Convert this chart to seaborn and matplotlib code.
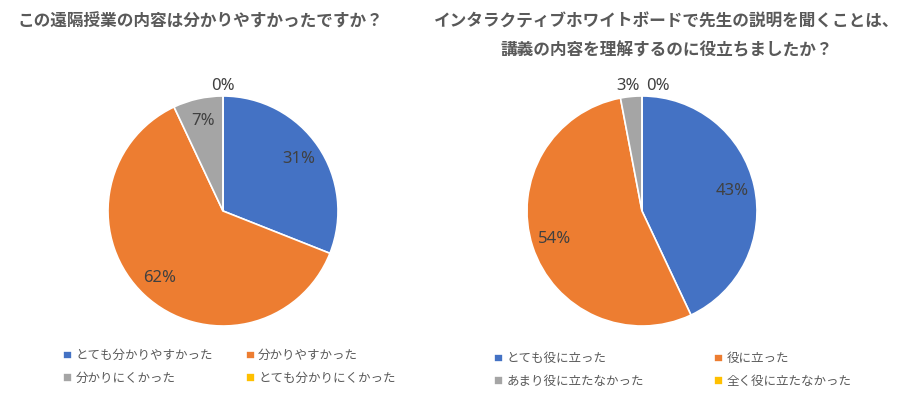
import numpy as np
import matplotlib
matplotlib.use('Agg')
import matplotlib.pyplot as plt
import seaborn as sns

# data
q1_title = 'この遠隔授業の内容は分かりやすかったですか？'
q1_labels = ['とても分かりやすかった', '分かりやすかった', '分かりにくかった', 'とても分かりにくかった']
q1_values = [31, 62, 7, 0]

q2_title = 'インタラクティブホワイトボードで先生の説明を聞くことは、\n講義の内容を理解するのに役立ちましたか？'
q2_labels = ['とても役に立った', '役に立った', 'あまり役に立たなかった', '全く役に立たなかった']
q2_values = [43, 54, 3, 0]

sns.set_theme(style='white')
plt.rcParams['font.family'] = ['Noto Sans CJK JP', 'DejaVu Sans']

pal = ['#4472C4', '#ED7D31', '#A5A5A5', '#FFC000']
W, H = 900, 393
fig = plt.figure(figsize=(9, 3.93), dpi=100)


def draw_pie(cx, cy, r, values, labels, small_nudge, legend_box, colspace):
    ax = fig.add_axes([(cx - r) / W, (H - cy - r) / H, 2 * r / W, 2 * r / H])
    wedges, _ = ax.pie(values, colors=pal, startangle=90, counterclock=False,
                       wedgeprops=dict(edgecolor='white', linewidth=1.2))
    ax.set_xlim(-1, 1)
    ax.set_ylim(-1, 1)
    ax.set_aspect('equal')
    # data labels
    for w, v, nudge in zip(wedges, values, small_nudge):
        ang = np.deg2rad((w.theta1 + w.theta2) / 2)
        dist = 0.8 if v >= 5 else 1.09
        x, y = dist * np.cos(ang) + nudge, dist * np.sin(ang)
        ax.text(x, y, f'{v}%', ha='center', va='center', fontsize=12,
                color='#404040', family=['Noto Sans', 'DejaVu Sans'])
    # legend filled row by row, like the original
    order = [0, 2, 1, 3]
    fig.legend([wedges[i] for i in order], [labels[i] for i in order],
               loc='upper left', bbox_to_anchor=legend_box,
               ncol=2, frameon=False, fontsize=9, labelcolor='#595959',
               handlelength=0.7, handleheight=0.7, handletextpad=0.3,
               columnspacing=colspace, labelspacing=0.75)
    return ax


draw_pie(223, 211, 115, q1_values, q1_labels, [0, 0, 0, 0],
         (52 / W, 1 - 338 / H), 2.6)
draw_pie(642, 211, 115, q2_values, q2_labels, [0, 0, -0.02, 0.14],
         (483 / W, 1 - 341 / H), 5.6)

fig.text(200 / W, 1 - 22 / H, q1_title, ha='center', va='center',
         fontsize=12, fontweight='bold', color='#595959')
fig.text(667 / W, 1 - 36 / H, q2_title, ha='center', va='center',
         fontsize=12, fontweight='bold', color='#595959', linespacing=1.75)

plt.savefig('out.png', dpi=100)
